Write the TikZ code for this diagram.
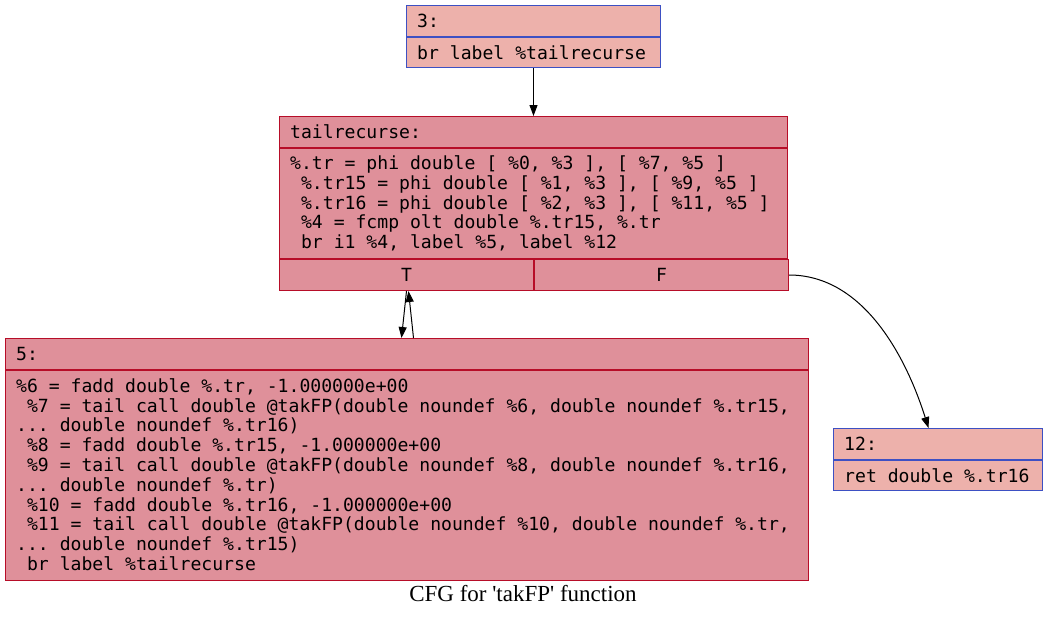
\documentclass[tikz,border=0pt]{standalone}
\usepackage{fontspec}
\usepackage{tikz}
\usetikzlibrary{arrows.meta,positioning}
\newfontfamily\llvmfont{DejaVu Sans Mono}
\newfontfamily\capfont{Liberation Serif}
\newcommand{\codefont}{\llvmfont\fontsize{18.1pt}{19.8pt}\selectfont\frenchspacing}
\definecolor{coldfill}{HTML}{EDB1AB}
\definecolor{coldline}{HTML}{3D50C3}
\definecolor{hotfill}{HTML}{DF909A}
\definecolor{hotline}{HTML}{B70D28}
\tikzset{
  coldcell/.style={draw=coldline,fill=coldfill,line width=1pt,inner sep=0pt,anchor=north west},
  hotcell/.style={draw=hotline,fill=hotfill,line width=1pt,inner sep=0pt,anchor=north west},
  code/.style={font=\codefont,align=left,inner sep=0pt,anchor=west},
  cfgedge/.style={-{Triangle[length=11pt,width=8pt]},line width=1pt}
}

\begin{document}
\begin{tikzpicture}[x=1pt,y=-1pt]
\useasboundingbox (0,0) rectangle (1047,616);
\node[coldcell,minimum width=254pt,minimum height=31pt] (h3) at (406,5) {};
\node[coldcell,minimum width=254pt,minimum height=30pt] (b3) at (h3.south west) {};
\node[code] (h3t) at ([xshift=11pt]h3.west) {3:};
\node[code] (b3t) at ([xshift=11pt]b3.west) {br label \%tailrecurse};
\node[hotcell,minimum width=508pt,minimum height=31pt] (htr) at (279,116) {};
\node[hotcell,minimum width=508pt,minimum height=110pt] (btr) at (htr.south west) {};
\node[hotcell,minimum width=254pt,minimum height=31pt] (tT) at (btr.south west) {};
\node[hotcell,minimum width=254pt,minimum height=31pt] (tF) at (tT.north east) {};
\node[code] (htrt) at ([xshift=11pt]htr.west) {tailrecurse:};
\node[code] (btrt) at ([xshift=11pt]btr.west) {\%.tr = phi double [ \%0, \%3 ], [ \%7, \%5 ]\\
~\%.tr15 = phi double [ \%1, \%3 ], [ \%9, \%5 ]\\
~\%.tr16 = phi double [ \%2, \%3 ], [ \%11, \%5 ]\\
~\%4 = fcmp olt double \%.tr15, \%.tr\\
~br i1 \%4, label \%5, label \%12};
\node[code,anchor=center] (tTt) at (tT.center) {T};
\node[code,anchor=center] (tFt) at (tF.center) {F};
\node[hotcell,minimum width=803pt,minimum height=31pt] (h5) at (5,338) {};
\node[hotcell,minimum width=803pt,minimum height=210pt] (b5) at (h5.south west) {};
\node[code] (h5t) at ([xshift=11pt]h5.west) {5:};
\node[code] (b5t) at ([xshift=11pt,yshift=1pt]b5.west) {\%6 = fadd double \%.tr, -1.000000e+00\\
~\%7 = tail call double @takFP(double noundef \%6, double noundef \%.tr15,\\
... double noundef \%.tr16)\\
~\%8 = fadd double \%.tr15, -1.000000e+00\\
~\%9 = tail call double @takFP(double noundef \%8, double noundef \%.tr16,\\
... double noundef \%.tr)\\
~\%10 = fadd double \%.tr16, -1.000000e+00\\
~\%11 = tail call double @takFP(double noundef \%10, double noundef \%.tr,\\
... double noundef \%.tr15)\\
~br label \%tailrecurse};
\node[coldcell,minimum width=209pt,minimum height=31pt] (h12) at (833,428) {};
\node[coldcell,minimum width=209pt,minimum height=30pt] (b12) at (h12.south west) {};
\node[code] (h12t) at ([xshift=11pt]h12.west) {12:};
\node[code] (b12t) at ([xshift=11pt]b12.west) {ret double \%.tr16};
\node[font=\capfont\fontsize{23pt}{25pt}\selectfont,inner sep=0pt] (cap) at (523,594) {CFG for \textquotesingle takFP\textquotesingle\ function};
\draw[cfgedge] (b3.south) -- (htr.north);
\draw[cfgedge] (tT.south) -- ([xshift=-5.5pt]h5.north);
\draw[cfgedge] ([xshift=6.5pt]h5.north) -- ([xshift=2pt]tT.south);
\draw[cfgedge] (tF.east) .. controls +(75,0) and +(-22,-70) .. ([xshift=-9.5pt]h12.north);
\end{tikzpicture}
\end{document}
